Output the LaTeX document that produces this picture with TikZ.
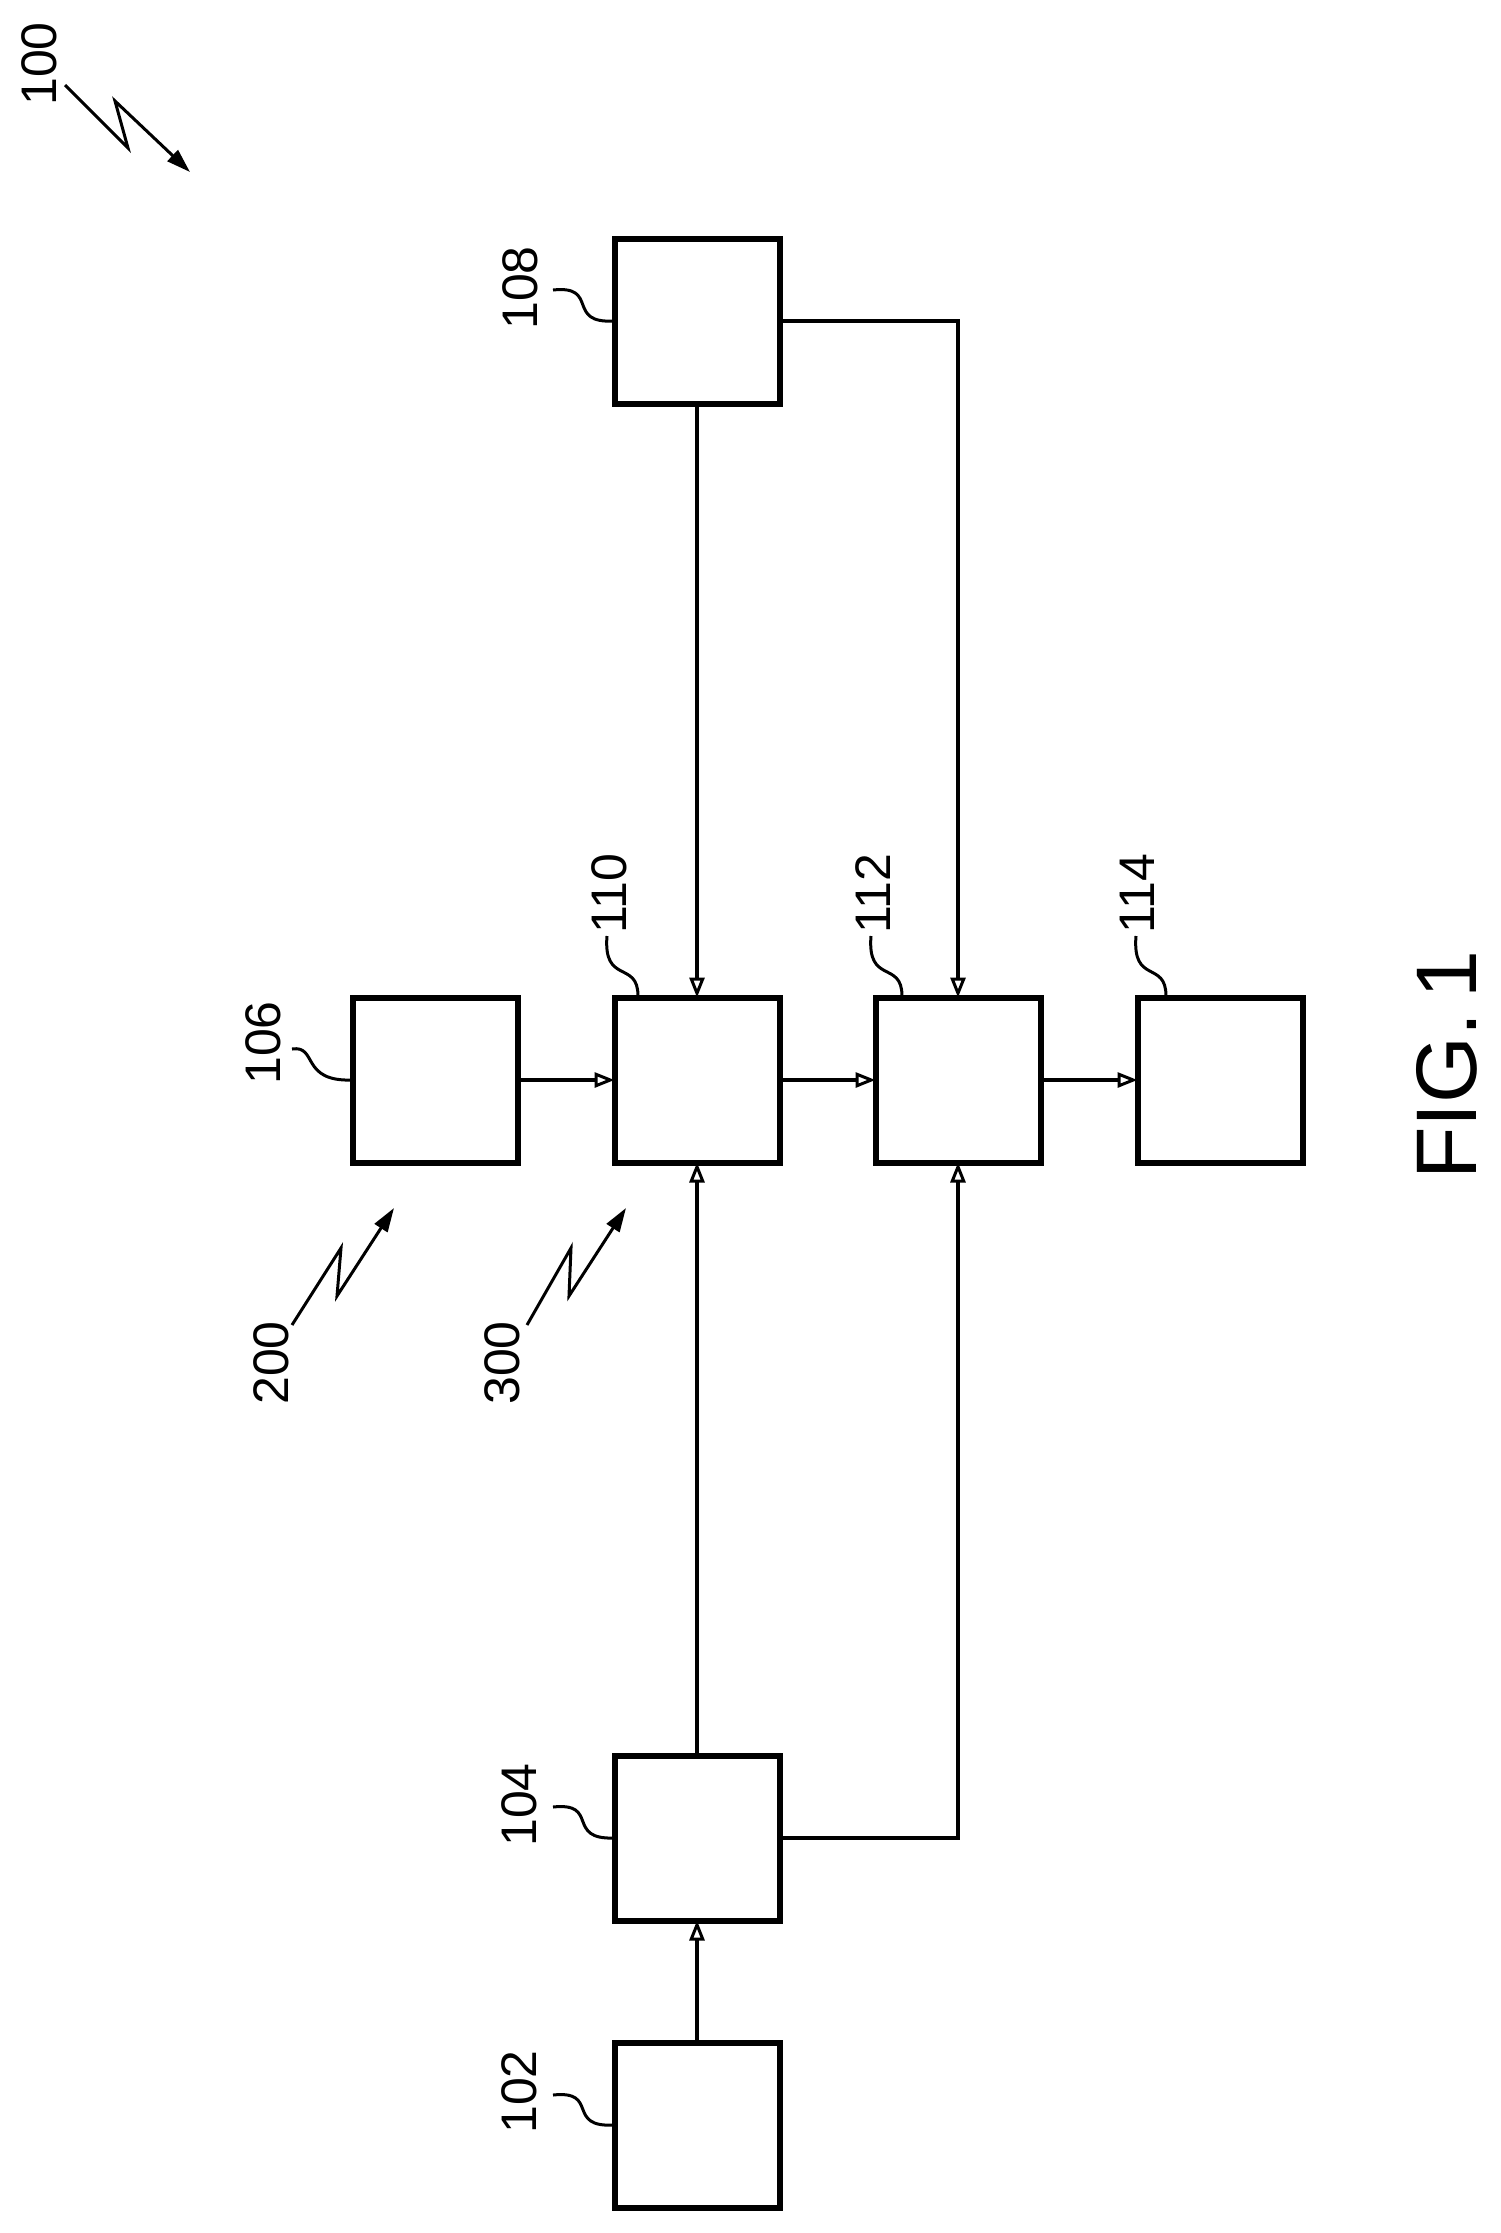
\documentclass[tikz,border=0pt]{standalone}
\usepackage{fontspec}
\setmainfont{Liberation Sans}
\usetikzlibrary{arrows.meta}
\begin{document}
\begin{tikzpicture}[x=1pt,y=-1pt,
  box/.style={draw,line width=6pt,minimum width=165pt,minimum height=165pt,inner sep=0pt,outer sep=0pt},
  conn/.style={line width=3.5pt,-{Triangle[open,length=20pt,width=15pt,line width=3pt]}},
  lead/.style={line width=3pt},
  lbl/.style={rotate=90,font=\fontsize{50}{50}\selectfont,inner sep=0pt},
  zz/.style={line width=3pt,-{Triangle[length=24pt,width=15pt]}}]
\useasboundingbox (0,0) rectangle (1500,2233);
\node[box] (b102) at (697,2125) {};
\node[box] (b104) at (697,1838) {};
\node[box] (b106) at (435,1080) {};
\node[box] (b110) at (697,1080) {};
\node[box] (b112) at (958,1080) {};
\node[box] (b114) at (1220,1080) {};
\node[box] (b108) at (697,321) {};
% connectors
\draw[conn] (b102.north) -- (b104.south);
\draw[conn] (b104.north) -- (b110.south);
\draw[conn] (b108.south) -- (b110.north);
\draw[conn] (b106.east) -- (b110.west);
\draw[conn] (b110.east) -- (b112.west);
\draw[conn] (b112.east) -- (b114.west);
\draw[conn] (b104.east) -| (b112.south);
\draw[conn] (b108.east) -| (b112.north);
% labels
\node[lbl] (l102) at (519,2092) {102};
\node[lbl] (l104) at (519,1805) {104};
\node[lbl] (l108) at (520,288) {108};
\node[lbl] (l106) at (263,1043) {106};
\node[lbl] (l110) at (609,894) {110};
\node[lbl] (l112) at (873,894) {112};
\node[lbl] (l114) at (1137,894) {114};
\node[lbl] (l100) at (39,64) {100};
\node[lbl] (l200) at (271,1363) {200};
\node[lbl] (l300) at (502,1363) {300};
\node[lbl,font=\fontsize{86}{86}\selectfont] (fig) at (1447,1065) {FIG.\,1};
% leaders
\draw[lead] (553,2095) .. controls (600,2090) and (565,2128) .. (b102.west);
\draw[lead] (553,1807) .. controls (600,1802) and (565,1840) .. (b104.west);
\draw[lead] (553,290) .. controls (600,285) and (565,324) .. (b108.west);
\draw[lead] (292,1049) .. controls (318,1045) and (300,1082) .. (b106.west);
\draw[lead] (607,936) .. controls (603,985) and (638,960) .. (638,996);
\draw[lead] (871,936) .. controls (867,985) and (902,960) .. (902,996);
\draw[lead] (1136,936) .. controls (1132,985) and (1166,960) .. (1166,996);
% zigzag reference arrows
\draw[zz] (65,85) -- (128,148) -- (115,101) -- (190,172);
\draw[zz] (292,1325) -- (341,1248) -- (337,1296) -- (394,1208);
\draw[zz] (527,1325) -- (571,1248) -- (569,1296) -- (626,1208);
\end{tikzpicture}
\end{document}
